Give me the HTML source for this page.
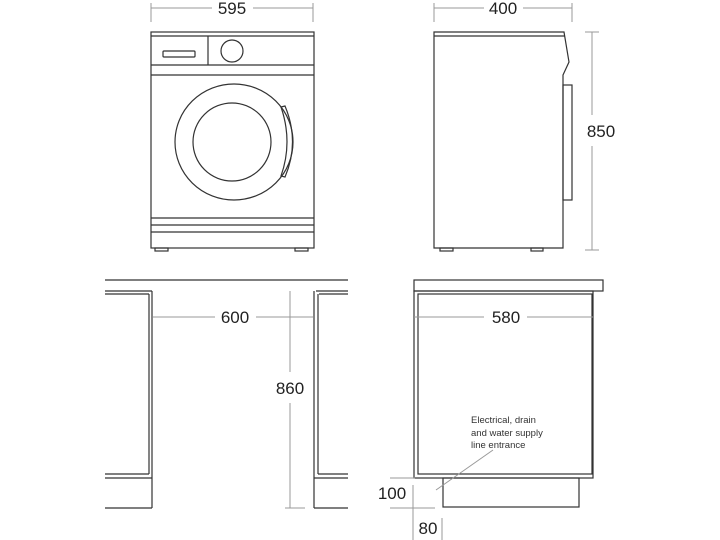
<!DOCTYPE html>
<html><head><style>html,body{margin:0;padding:0;background:#fff}svg{display:block}</style></head><body>
<svg width="720" height="540" viewBox="0 0 720 540" xmlns="http://www.w3.org/2000/svg" font-family="Liberation Sans, sans-serif">
<g fill="none" stroke="#333" stroke-width="1.2">
<!-- front machine -->
<rect x="151" y="32" width="163" height="216"/>
<line x1="151" y1="36" x2="314" y2="36"/>
<line x1="151" y1="65" x2="314" y2="65"/>
<line x1="151" y1="75" x2="314" y2="75"/>
<line x1="208" y1="36" x2="208" y2="65"/>
<rect x="163" y="51" width="32" height="6" rx="1"/>
<circle cx="232" cy="51" r="11"/>
<ellipse cx="234" cy="142" rx="59" ry="58"/>
<circle cx="232" cy="142" r="39"/>
<path d="M281 107 L285 106 Q300 142 285 177 L281 176 Q293 142 281 107 Z"/>
<line x1="151" y1="218" x2="314" y2="218"/>
<line x1="151" y1="225" x2="314" y2="225"/>
<line x1="151" y1="232" x2="314" y2="232"/>
<rect x="155" y="248" width="13" height="3"/>
<rect x="295" y="248" width="13" height="3"/>
<!-- side machine -->
<path d="M434 32 L564 32 L569 62 L563 75 L563 248 L434 248 Z"/>
<line x1="434" y1="36" x2="565" y2="36"/>
<rect x="563" y="85" width="9" height="115"/>
<rect x="440" y="248" width="13" height="3"/>
<rect x="531" y="248" width="12" height="3"/>
<!-- bottom left -->
<line x1="105" y1="280" x2="348" y2="280"/>
<line x1="105" y1="291" x2="152" y2="291"/>
<line x1="316" y1="291" x2="348" y2="291"/>
<line x1="105" y1="294" x2="149" y2="294"/>
<line x1="319" y1="294" x2="348" y2="294"/>
<line x1="152" y1="291" x2="152" y2="508"/>
<line x1="149" y1="294" x2="149" y2="474"/>
<line x1="105" y1="474" x2="149" y2="474"/>
<line x1="105" y1="478" x2="152" y2="478"/>
<line x1="105" y1="508" x2="152" y2="508"/>
<line x1="314" y1="291" x2="314" y2="508"/>
<line x1="318" y1="294" x2="318" y2="474"/>
<line x1="318" y1="474" x2="348" y2="474"/>
<line x1="314" y1="478" x2="348" y2="478"/>
<line x1="314" y1="508" x2="348" y2="508"/>
<!-- bottom right -->
<rect x="414" y="280" width="189" height="11"/>
<rect x="414" y="291" width="179" height="187"/>
<rect x="418" y="294" width="174" height="180"/>
<rect x="443" y="478" width="136" height="29"/>
</g>
<g fill="none" stroke="#999" stroke-width="1">
<line x1="151" y1="8" x2="212" y2="8"/><line x1="253" y1="8" x2="313" y2="8"/>
<line x1="151" y1="3" x2="151" y2="22"/><line x1="313" y1="3" x2="313" y2="22"/>
<line x1="434" y1="8" x2="484" y2="8"/><line x1="523" y1="8" x2="572" y2="8"/>
<line x1="434" y1="3" x2="434" y2="22"/><line x1="572" y1="3" x2="572" y2="22"/>
<line x1="592" y1="32" x2="592" y2="115"/><line x1="592" y1="146" x2="592" y2="250"/>
<line x1="585" y1="32" x2="599" y2="32"/><line x1="585" y1="250" x2="599" y2="250"/>
<line x1="153" y1="317" x2="215" y2="317"/><line x1="256" y1="317" x2="313" y2="317"/>
<line x1="290" y1="291" x2="290" y2="372"/><line x1="290" y1="403" x2="290" y2="508"/>
<line x1="285" y1="508" x2="305" y2="508"/>
<line x1="414" y1="317" x2="484" y2="317"/><line x1="527" y1="317" x2="593" y2="317"/>
<line x1="493" y1="450" x2="436" y2="490"/>
<line x1="390" y1="478" x2="415" y2="478"/>
<line x1="390" y1="508" x2="435" y2="508"/>
<line x1="413" y1="485" x2="413" y2="540"/>
<line x1="442" y1="518" x2="442" y2="540"/>
</g>
<g fill="#222" font-size="17" text-anchor="middle">
<text x="232" y="14">595</text>
<text x="503" y="14">400</text>
<text x="601" y="137">850</text>
<text x="235" y="323">600</text>
<text x="290" y="394">860</text>
<text x="506" y="323">580</text>
<text x="392" y="499">100</text>
<text x="428" y="534">80</text>
</g>
<g fill="#333" font-size="9.5">
<text x="471" y="423">Electrical, drain</text>
<text x="471" y="436">and water supply</text>
<text x="471" y="448">line entrance</text>
</g>
</svg>
</body></html>
